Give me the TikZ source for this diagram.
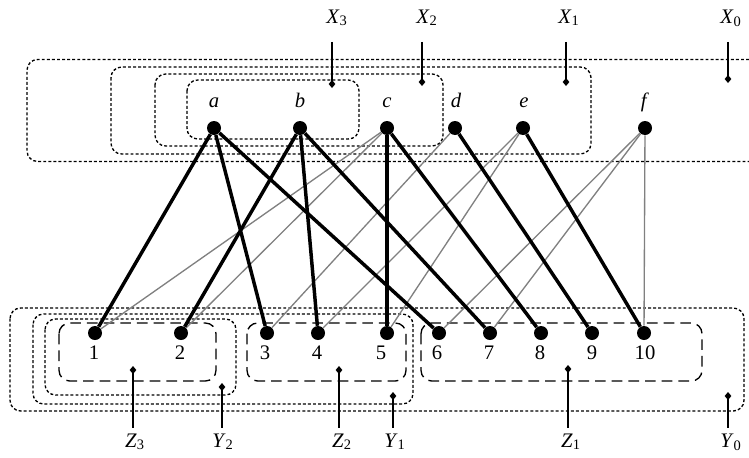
\documentclass[tikz,border=0pt]{standalone}
\usepackage{fontspec}
\setmainfont{Liberation Serif}
\usetikzlibrary{arrows.meta}

\begin{document}
\begin{tikzpicture}[x=0.75pt,y=-0.75pt,font=\fontsize{15.5}{19}\selectfont,
  vertex/.style={circle,fill=black,inner sep=0pt,minimum size=10.5pt},
  lab/.style={inner sep=0pt,anchor=base},
  strong/.style={line width=2.6pt},
  weak/.style={draw=gray,line width=1pt},
  dotbox/.style={line width=1pt,dash pattern=on 2.2pt off 1.6pt,rounded corners=8pt},
  dashbox/.style={line width=1pt,dash pattern=on 8pt off 4.5pt,rounded corners=8pt},
  tag/.style={inner sep=0pt,text depth=0pt,anchor=base},
  pointer/.style={line width=1.1pt,-{Diamond[length=6pt,width=5pt]}}]
  \useasboundingbox (0,0) rectangle (749,457);

  % Sets X_i (top)
  \draw[dotbox] (749,59.5) -- (27,59.5) -- (27,161.5) -- (749,161.5);
  \draw[dotbox] (111,67) rectangle (591,154);
  \draw[dotbox] (155,74) rectangle (443,146);
  \draw[dotbox] (187,80) rectangle (359,139);

  % Sets Y_i and Z_i (bottom)
  \draw[dotbox] (10,308) rectangle (744,411);
  \draw[dotbox] (33,314) rectangle (413,404);
  \draw[dotbox] (45,319) rectangle (236,395);
  \draw[dashbox] (59,323) rectangle (216,381);
  \draw[dashbox] (247,323) rectangle (406,381);
  \draw[dashbox] (421,323) rectangle (702,381);

  % Top vertices
  \node[vertex] (a) at (214,128) {};
  \node[vertex] (b) at (300,128) {};
  \node[vertex] (c) at (387,128) {};
  \node[vertex] (d) at (455,128) {};
  \node[vertex] (e) at (523,128) {};
  \node[vertex] (f) at (645,128) {};
  \node[lab] (ta) at (214,107) {\textit{a}};
  \node[lab] (tb) at (300,107) {\textit{b}};
  \node[lab] (tc) at (387,107) {\textit{c}};
  \node[lab] (td) at (456,107) {\textit{d}};
  \node[lab] (te) at (524,107) {\textit{e}};
  \node[lab] (tf) at (645,107) {\textit{f}};

  % Bottom vertices
  \node[vertex] (n1) at (95,333) {};
  \node[vertex] (n2) at (181,333) {};
  \node[vertex] (n3) at (267,333) {};
  \node[vertex] (n4) at (318,333) {};
  \node[vertex] (n5) at (387,333) {};
  \node[vertex] (n6) at (439,333) {};
  \node[vertex] (n7) at (490,333) {};
  \node[vertex] (n8) at (541,333) {};
  \node[vertex] (n9) at (592,333) {};
  \node[vertex] (n10) at (644,333) {};
  \node[lab] (t1) at (94,359) {1};
  \node[lab] (t2) at (180,359) {2};
  \node[lab] (t3) at (265,359) {3};
  \node[lab] (t4) at (317,359) {4};
  \node[lab] (t5) at (381,359) {5};
  \node[lab] (t6) at (437,359) {6};
  \node[lab] (t7) at (489,359) {7};
  \node[lab] (t8) at (540,359) {8};
  \node[lab] (t9) at (592,359) {9};
  \node[lab] (t10) at (645,359) {10};

  % Edges
  \draw[weak] (c) -- (n1);
  \draw[weak] (c) -- (n2);
  \draw[weak] (d) -- (n3);
  \draw[weak] (e) -- (n4);
  \draw[weak] (e) -- (n5);
  \draw[weak] (f) -- (n6);
  \draw[weak] (f) -- (n7);
  \draw[weak] (f) -- (n10);
  \draw[strong] (a) -- (n1);
  \draw[strong] (a) -- (n3);
  \draw[strong] (a) -- (n6);
  \draw[strong] (b) -- (n2);
  \draw[strong] (b) -- (n4);
  \draw[strong] (b) -- (n7);
  \draw[strong] (c) -- (n5);
  \draw[strong] (c) -- (n8);
  \draw[strong] (d) -- (n9);
  \draw[strong] (e) -- (n10);

  % Names of the top sets
  \node[tag] (lX3) at (337,23) {\textit{X}\textsubscript{3}};
  \node[tag] (lX2) at (427,23) {\textit{X}\textsubscript{2}};
  \node[tag] (lX1) at (569,23) {\textit{X}\textsubscript{1}};
  \node[tag] (lX0) at (731,23) {\textit{X}\textsubscript{0}};
  \coordinate (pX3) at (332,88);
  \coordinate (pX2) at (422,86);
  \coordinate (pX1) at (566,86);
  \coordinate (pX0) at (728,83);
  \draw[pointer,shorten <=14pt] (pX3 |- lX3.south) -- (pX3);
  \draw[pointer,shorten <=14pt] (pX2 |- lX2.south) -- (pX2);
  \draw[pointer,shorten <=14pt] (pX1 |- lX1.south) -- (pX1);
  \draw[pointer,shorten <=14pt] (pX0 |- lX0.south) -- (pX0);

  % Names of the bottom sets
  \node[tag] (lZ3) at (135,447) {\textit{Z}\textsubscript{3}};
  \node[tag] (lY2) at (223,447) {\textit{Y}\textsubscript{2}};
  \node[tag] (lZ2) at (342,447) {\textit{Z}\textsubscript{2}};
  \node[tag] (lY1) at (395,447) {\textit{Y}\textsubscript{1}};
  \node[tag] (lZ1) at (571,447) {\textit{Z}\textsubscript{1}};
  \node[tag] (lY0) at (731,447) {\textit{Y}\textsubscript{0}};
  \coordinate (pZ3) at (133,366);
  \coordinate (pY2) at (222,383);
  \coordinate (pZ2) at (339,366);
  \coordinate (pY1) at (393,392);
  \coordinate (pZ1) at (568,365);
  \coordinate (pY0) at (728,392);
  \draw[pointer,shorten <=4pt] (pZ3 |- lZ3.north) -- (pZ3);
  \draw[pointer,shorten <=4pt] (pY2 |- lY2.north) -- (pY2);
  \draw[pointer,shorten <=4pt] (pZ2 |- lZ2.north) -- (pZ2);
  \draw[pointer,shorten <=4pt] (pY1 |- lY1.north) -- (pY1);
  \draw[pointer,shorten <=4pt] (pZ1 |- lZ1.north) -- (pZ1);
  \draw[pointer,shorten <=4pt] (pY0 |- lY0.north) -- (pY0);
\end{tikzpicture}
\end{document}
